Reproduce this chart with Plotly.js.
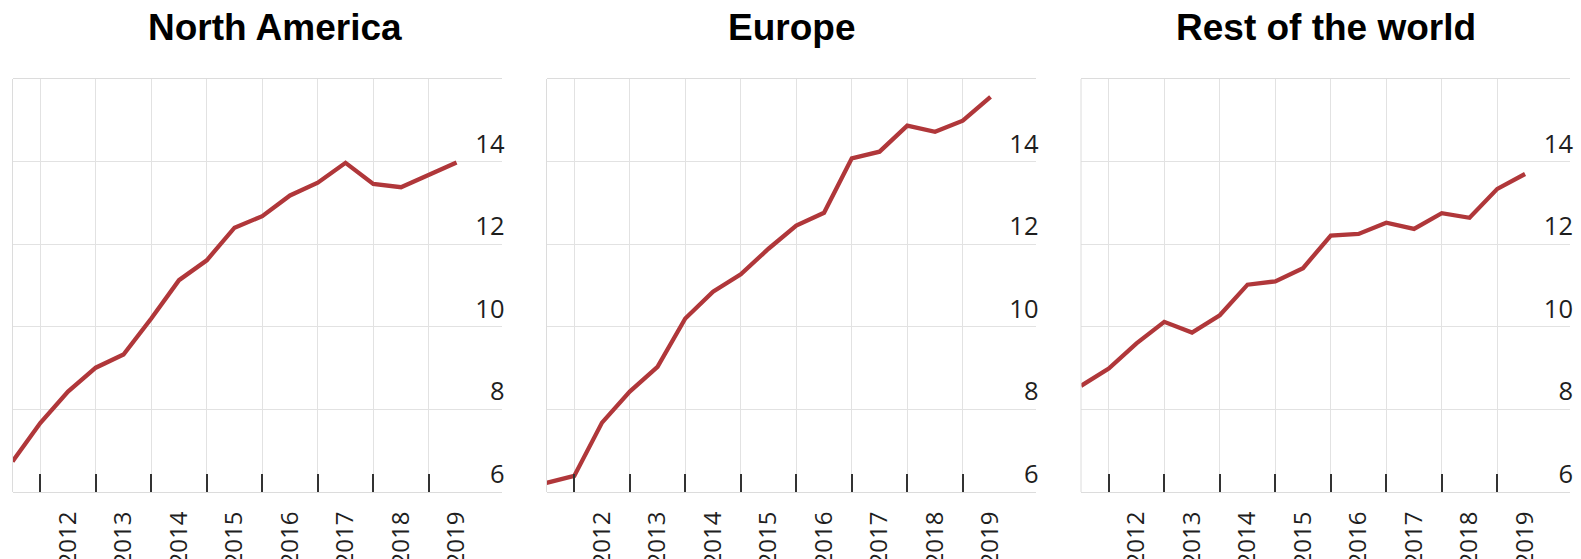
<!DOCTYPE html>
<html>
<head>
<meta charset="utf-8">
<script src="https://cdn.plot.ly/plotly-3.0.1.min.js"></script>
<style>html,body{margin:0;padding:0;background:#fff;} #chart{width:1581px;height:559px;}</style>
</head>
<body>
<div id="chart"></div>
<script>
// Half-year observation points (decimal years)
const periods = [2011.5, 2012.0, 2012.5, 2013.0, 2013.5, 2014.0, 2014.5, 2015.0, 2015.5,
                 2016.0, 2016.5, 2017.0, 2017.5, 2018.0, 2018.5, 2019.0, 2019.5];

const regionNames = ["North America", "Europe", "Rest of the world"];

const northAmerica = [6.74, 7.67, 8.43, 9.01, 9.33, 10.20, 11.13, 11.61, 12.40,
                      12.68, 13.18, 13.49, 13.97, 13.46, 13.38, 13.69, 13.98];
const europe       = [6.22, 6.39, 7.68, 8.43, 9.03, 10.20, 10.85, 11.27, 11.89,
                      12.45, 12.76, 14.08, 14.24, 14.87, 14.72, 14.99, 15.57];
const restOfWorld  = [8.57, 8.99, 9.60, 10.12, 9.86, 10.28, 11.02, 11.10, 11.42,
                      12.21, 12.25, 12.52, 12.37, 12.75, 12.64, 13.34, 13.70];

// Year boundaries (ticks/grid) and year label positions
const yearTicks  = [2012, 2013, 2014, 2015, 2016, 2017, 2018, 2019];
const labelPos   = [2012.5, 2013.5, 2014.5, 2015.5, 2016.5, 2017.5, 2018.5, 2019.5];
const yearLabels = ["2012", "2013", "2014", "2015", "2016", "2017", "2018", "2019"];
const yTicks     = [6, 8, 10, 12, 14];

const W = 1581, H = 559;
const panelLeft = [12.5, 546.5, 1081];
const panelWidth = 489;
const plotTop = 79, plotBottom = 492;
const titleCenters = [275, 791, 1326];
const xRange = [2011.5, 2020.31];
const yRange = [6, 16];

const series = [northAmerica, europe, restOfWorld];
const lineColor = '#b0373a';
const gridColor = '#e2e2e2';
const frameColor = '#dcdcdc';
const xTickFont = {family: 'Open Sans, Noto Sans, sans-serif', size: 24, color: '#1e1e1e'};
const yTickFont = {family: 'Open Sans, Noto Sans, sans-serif', size: 25.5, color: '#1e1e1e'};

const data = [];
const layout = {
  width: W, height: H,
  margin: {l: 0, r: 0, t: 0, b: 0},
  paper_bgcolor: '#ffffff', plot_bgcolor: '#ffffff',
  showlegend: false,
  annotations: [],
  shapes: []
};

const yDomain = [(H - plotBottom) / H, (H - plotTop) / H];

for (let i = 0; i < 3; i++) {
  const n = i + 1;
  const xa = n === 1 ? 'x' : 'x' + n;
  const ya = n === 1 ? 'y' : 'y' + n;
  const xKey = n === 1 ? 'xaxis' : 'xaxis' + n;
  const yKey = n === 1 ? 'yaxis' : 'yaxis' + n;
  const dom = [panelLeft[i] / W, (panelLeft[i] + panelWidth) / W];

  data.push({
    x: periods, y: series[i], xaxis: xa, yaxis: ya,
    type: 'scatter', mode: 'lines',
    line: {color: lineColor, width: 4.3},
    hoverinfo: 'x+y'
  });

  layout[xKey] = {
    domain: dom, anchor: ya, range: xRange, type: 'linear',
    tickmode: 'array', tickvals: labelPos, ticktext: yearLabels,
    tickangle: -90, tickfont: xTickFont, ticks: '',
    ticklabelstandoff: 9,
    showgrid: false,
    minor: {
      tickmode: 'array', tickvals: yearTicks,
      ticks: 'inside', ticklen: 18, tickwidth: 2, tickcolor: '#333333',
      showgrid: true, gridcolor: gridColor, gridwidth: 1
    },
    showline: true, linecolor: frameColor, linewidth: 1, mirror: true,
    zeroline: false, fixedrange: true, automargin: false
  };
  layout[yKey] = {
    domain: yDomain, anchor: xa, range: yRange, side: 'right',
    tickmode: 'array', tickvals: yTicks,
    ticklabelposition: 'inside top', tickfont: yTickFont, ticks: '',
    ticklabelstandoff: -6,
    showgrid: true, gridcolor: gridColor, gridwidth: 1,
    showline: false, zeroline: false, fixedrange: true, automargin: false
  };
  layout.shapes.push({
    type: 'line', xref: xa + ' domain', yref: ya + ' domain',
    x0: 0, x1: 0, y0: 0, y1: 1,
    line: {color: frameColor, width: 1}
  });
  layout.annotations.push({
    text: regionNames[i], xref: 'paper', yref: 'paper',
    x: titleCenters[i] / W, y: (H - 27.5) / H,
    xanchor: 'center', yanchor: 'middle', showarrow: false,
    font: {family: 'Liberation Sans, Arial, sans-serif', size: 37, color: '#000000', weight: 'bold'}
  });
}

Plotly.newPlot('chart', data, layout, {displayModeBar: false, staticPlot: true});
</script>
</body>
</html>
